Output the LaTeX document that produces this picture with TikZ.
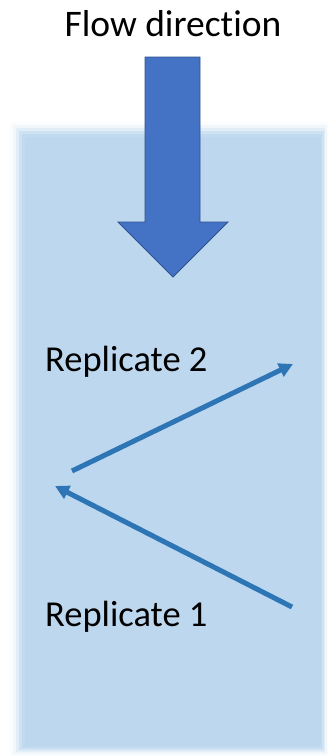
\documentclass[tikz,border=0pt]{standalone}
\usepackage{fontspec}
\setmainfont{Carlito}[Ligatures=NoCommon]
\usepackage{xcolor}
\usetikzlibrary{positioning,calc,arrows.meta}

\definecolor{bgblue}{HTML}{BDD7EE}
\definecolor{flowfill}{HTML}{4472C4}
\definecolor{flowline}{HTML}{2F528F}
\definecolor{pathblue}{HTML}{2E75B6}

\tikzset{
    reptext/.style={anchor=base west, inner sep=0pt, font=\fontsize{36.5}{40}\selectfont},
    move/.style={line width=5pt, pathblue, -{Triangle[length=14pt,width=14pt]}}
}

\begin{document}
\begin{tikzpicture}[x=1pt, y=-1pt]
    \useasboundingbox (0,0) rectangle (328,756);

    % soft-edged channel
    \foreach \d/\o in {0/0.08, 3/0.15, 6/0.30, 9/0.50, 12/0.75, 15/1.0} {
        \fill [bgblue, opacity=\o] (10+\d,122+\d) rectangle (328-\d*0.5,756-\d*0.7);
    }

    % flow arrow
    \draw [flowline, fill=flowfill, line width=0.8pt, line join=miter]
        (145,57) -- (200,57) -- (200,222) -- (228,222) -- (173,277)
        -- (118,222) -- (145,222) -- cycle;
    \node (flow) [anchor=base, inner sep=0pt, font=\fontsize{37.5}{40}\selectfont] at (173,36) {Flow direction};

    % replicates
    \node (rep2) [reptext] at (45,371) {Replicate 2};
    \node (rep1) [reptext] at (45,626) {Replicate 1};

    \coordinate (start) at (292,607);
    \coordinate (turn) at (55,486);
    \coordinate (leave) at (72,471);
    \coordinate (stop) at (293,364);

    \draw [move] (start) -- (turn);
    \draw [move] (leave) -- (stop);
\end{tikzpicture}
\end{document}
